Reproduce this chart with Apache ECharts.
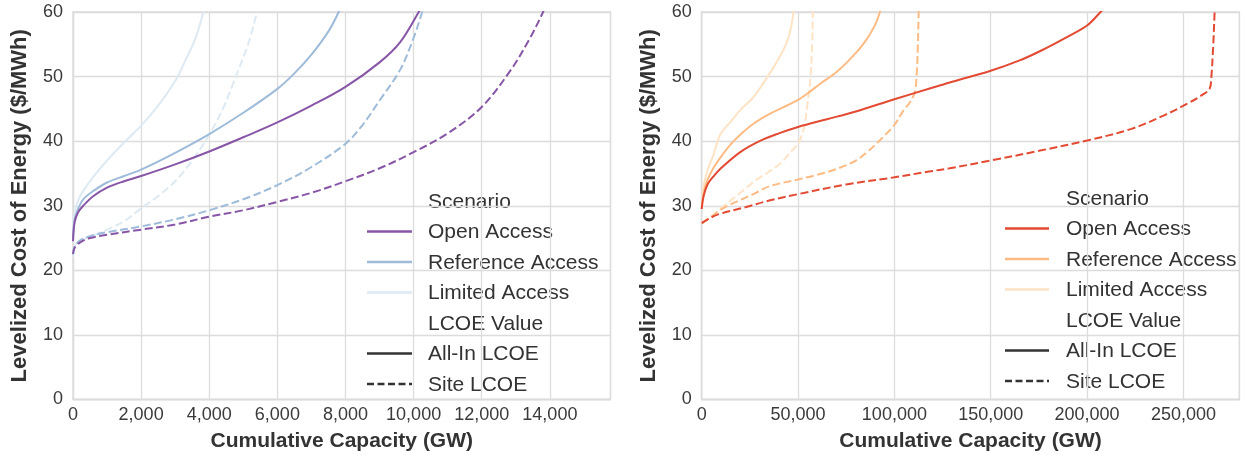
<!DOCTYPE html>
<html>
<head>
<meta charset="utf-8">
<script src="https://cdn.jsdelivr.net/npm/echarts@6/dist/echarts.min.js"></script>
<style>
html,body{margin:0;padding:0;background:#fff;}
#chart{width:1246px;height:465px;}
</style>
</head>
<body>
<div id="chart"></div>
<script>
// ---------- DATA ----------
const scenarioNames = ['Open Access', 'Reference Access', 'Limited Access'];
const lcoeNames = ['All-In LCOE', 'Site LCOE'];
const yTicks = [0, 10, 20, 30, 40, 50, 60];

// Left panel (Cumulative Capacity GW, $/MWh)
const leftOpenAllIn = [[0,24.5],[50,27.5],[150,29],[300,30],[600,31.5],[1000,32.8],[1500,33.8],[2000,34.6],[3000,36.4],[4000,38.4],[5000,40.6],[6000,42.9],[7000,45.5],[8000,48.4],[9000,52.2],[9600,55.3],[10150,60],[10300,61.5]];
const leftRefAllIn = [[0,25],[50,28],[150,29.5],[300,31],[600,32.3],[1000,33.6],[1500,34.6],[2000,35.6],[3000,38.2],[4000,41.1],[5000,44.4],[6000,48.1],[6500,50.5],[7000,53.4],[7500,57],[7800,60],[7900,61.5]];
const leftLimAllIn = [[0,26],[50,29],[150,30.8],[300,32.3],[600,34.5],[1000,37],[1500,39.8],[2000,42.4],[2500,45.5],[3000,49.3],[3300,52.5],[3600,56],[3830,60],[3900,61.5]];
const leftOpenSite = [[0,22.5],[50,23.5],[200,24.3],[500,25],[1000,25.5],[2000,26.3],[3000,27.1],[4000,28.3],[5000,29.3],[6000,30.6],[7000,32],[8000,33.8],[9000,35.8],[10000,38.3],[11000,41.2],[12000,45.3],[12850,51],[13400,55.8],[13800,60],[13950,62]];
const leftRefSite = [[0,22.5],[50,23.7],[200,24.6],[500,25.3],[1000,25.9],[2000,26.8],[3000,27.9],[4000,29.3],[5000,31],[6000,33.2],[7000,36],[8000,39.6],[8500,42.5],[9000,46.3],[9600,51],[10000,56],[10250,60],[10350,62]];
const leftLimSite = [[0,22],[50,23.8],[200,24.6],[500,25.2],[1000,26.3],[1500,27.6],[2000,29.6],[2500,31.5],[3000,33.8],[3500,37],[4000,41],[4400,45],[4700,48.9],[5000,53],[5200,56],[5400,60],[5480,62]];

// Right panel
const rightOpenAllIn = [[0,29.5],[1000,31.5],[3000,33.3],[6000,34.5],[10000,35.8],[20000,38.3],[30000,40],[40000,41.2],[50000,42.2],[65000,43.4],[80000,44.6],[100000,46.5],[120000,48.3],[130000,49.2],[150000,50.9],[165000,52.5],[176000,54],[190000,56.2],[200000,57.9],[207000,60],[210000,61]];
const rightRefAllIn = [[0,29.5],[1000,32],[3000,34],[6000,35.8],[9600,37.4],[15000,39.5],[20000,41],[26800,42.7],[35000,44.2],[42000,45.2],[50000,46.4],[55000,47.4],[61500,48.9],[70000,50.7],[78600,53.2],[85000,55.5],[90000,58],[92500,60],[94000,61.5]];
const rightLimAllIn = [[0,29.5],[1000,33],[3000,35.5],[6000,37.8],[9600,41],[15000,43],[20000,44.8],[26800,46.8],[34000,49.9],[40000,52.8],[44400,55.5],[46500,57.8],[47600,60],[48200,61.5]];
const rightOpenSite = [[0,27.3],[5000,28.2],[10000,28.8],[23000,29.8],[35000,30.8],[50000,31.8],[75000,33.3],[100000,34.4],[118000,35.3],[128700,35.8],[150000,37],[175000,38.5],[200000,40.1],[223000,41.9],[240000,44],[252000,45.8],[260000,47.2],[263600,48.1],[264500,50],[265500,55],[266200,60],[266500,61]];
const rightRefSite = [[0,27.3],[5000,28.3],[11000,29.6],[20000,30.9],[26800,31.8],[35000,33],[49000,34],[60000,34.8],[70000,35.7],[80000,37],[87000,38.6],[92000,40],[96000,41.2],[100000,42.5],[104600,44.7],[108000,46],[110500,47.5],[111500,50],[112200,55],[112600,60],[112800,61]];
const rightLimSite = [[0,27.3],[5000,28.3],[10000,29.6],[20000,32],[28400,34],[35000,35.3],[41000,36.6],[46000,38.3],[50000,39.6],[53000,42],[55000,46],[56500,50],[57300,55],[57700,60],[57800,61]];

// ---------- STYLE ----------
const FONT = '"Liberation Sans", Arial, sans-serif';
const TXT = '#333333';
const GRIDC = '#dcdcdc';
const leftColors = ['#8856a7', '#9ebcda', '#dde9f3'];
const rightColors = ['#e34a33', '#fdbb84', '#fee3c4'];
const DASH = [8, 3.5];

const chart = echarts.init(document.getElementById('chart'), null, {renderer: 'canvas'});

function fmt(v) { return Number(v).toLocaleString('en-US'); }

function xAxisDef(gridIndex, max, interval) {
  return {
    type: 'value', gridIndex, min: 0, max, interval,
    name: 'Cumulative Capacity (GW)', nameLocation: 'middle', nameGap: 31,
    nameTextStyle: {fontFamily: FONT, fontSize: 21, fontWeight: 'bold', color: TXT},
    axisLine: {show: true, lineStyle: {color: GRIDC, width: 1.3}},
    axisTick: {show: false},
    axisLabel: {fontFamily: FONT, fontSize: 18, color: '#3a3a3a', margin: 7, showMaxLabel: false,
      formatter: v => (v % interval === 0 ? fmt(v) : '')},
    splitLine: {show: true, lineStyle: {color: GRIDC, width: 1.3}}
  };
}
function yAxisDef(gridIndex) {
  return {
    type: 'value', gridIndex, min: yTicks[0], max: yTicks[yTicks.length - 1], interval: 10,
    name: 'Levelized Cost of Energy ($/MWh)', nameLocation: 'middle', nameGap: 42,
    nameTextStyle: {fontFamily: FONT, fontSize: 22, fontWeight: 'bold', color: TXT},
    axisLine: {show: true, lineStyle: {color: GRIDC, width: 1.3}},
    axisTick: {show: false},
    axisLabel: {fontFamily: FONT, fontSize: 18, color: '#3a3a3a', margin: 10},
    splitLine: {show: true, lineStyle: {color: GRIDC, width: 1.3}}
  };
}

function mk(data, color, dashed, axis) {
  return {
    type: 'line', data, xAxisIndex: axis, yAxisIndex: axis,
    showSymbol: false, symbol: 'none', smooth: 0.35,
    clip: true, animation: false,
    lineStyle: {color, width: 2, type: dashed ? DASH : 'solid'},
    emphasis: {disabled: true}
  };
}

const series = [
  mk(leftLimAllIn, leftColors[2], false, 0),
  mk(leftLimSite, leftColors[2], true, 0),
  mk(leftRefAllIn, leftColors[1], false, 0),
  mk(leftRefSite, leftColors[1], true, 0),
  mk(leftOpenAllIn, leftColors[0], false, 0),
  mk(leftOpenSite, leftColors[0], true, 0),
  mk(rightLimAllIn, rightColors[2], false, 1),
  mk(rightLimSite, rightColors[2], true, 1),
  mk(rightRefAllIn, rightColors[1], false, 1),
  mk(rightRefSite, rightColors[1], true, 1),
  mk(rightOpenAllIn, rightColors[0], false, 1),
  mk(rightOpenSite, rightColors[0], true, 1)
];

// Legend built as graphics (section headers + handles)
function legendGraphics(x0, x1, tx, y0, step, colors) {
  const rows = [
    {label: 'Scenario'},
    {label: scenarioNames[0], color: colors[0]},
    {label: scenarioNames[1], color: colors[1]},
    {label: scenarioNames[2], color: colors[2]},
    {label: 'LCOE Value'},
    {label: lcoeNames[0], color: '#333333'},
    {label: lcoeNames[1], color: '#333333', dashed: true}
  ];
  const els = [];
  rows.forEach((r, i) => {
    const y = y0 + i * step;
    if (r.color) {
      els.push({type: 'line', silent: true,
        shape: {x1: x0, y1: y - 1, x2: x1, y2: y - 1},
        style: {stroke: r.color, lineWidth: 2.5, lineDash: r.dashed ? [7, 3.5] : null}});
    }
    els.push({type: 'text', silent: true,
      style: {text: r.label, x: tx, y: y, fill: TXT, fontSize: 21, fontFamily: FONT,
        verticalAlign: 'middle', align: 'left'}});
  });
  return els;
}

const option = {
  backgroundColor: '#ffffff',
  animation: false,
  grid: [
    {left: 73, top: 12, width: 537.5, height: 387.5, containLabel: false,
     show: true, borderColor: GRIDC, borderWidth: 1.3, backgroundColor: 'transparent'},
    {left: 701.7, top: 12, width: 537.6, height: 387.5, containLabel: false,
     show: true, borderColor: GRIDC, borderWidth: 1.3, backgroundColor: 'transparent'}
  ],
  xAxis: [xAxisDef(0, 15780, 2000), xAxisDef(1, 279000, 50000)],
  yAxis: [yAxisDef(0), yAxisDef(1)],
  series,
  graphic: legendGraphics(367, 412, 428, 202, 30.5, leftColors)
    .concat(legendGraphics(1005, 1049, 1066, 199, 30.5, rightColors))
};
chart.setOption(option);
</script>
</body>
</html>
